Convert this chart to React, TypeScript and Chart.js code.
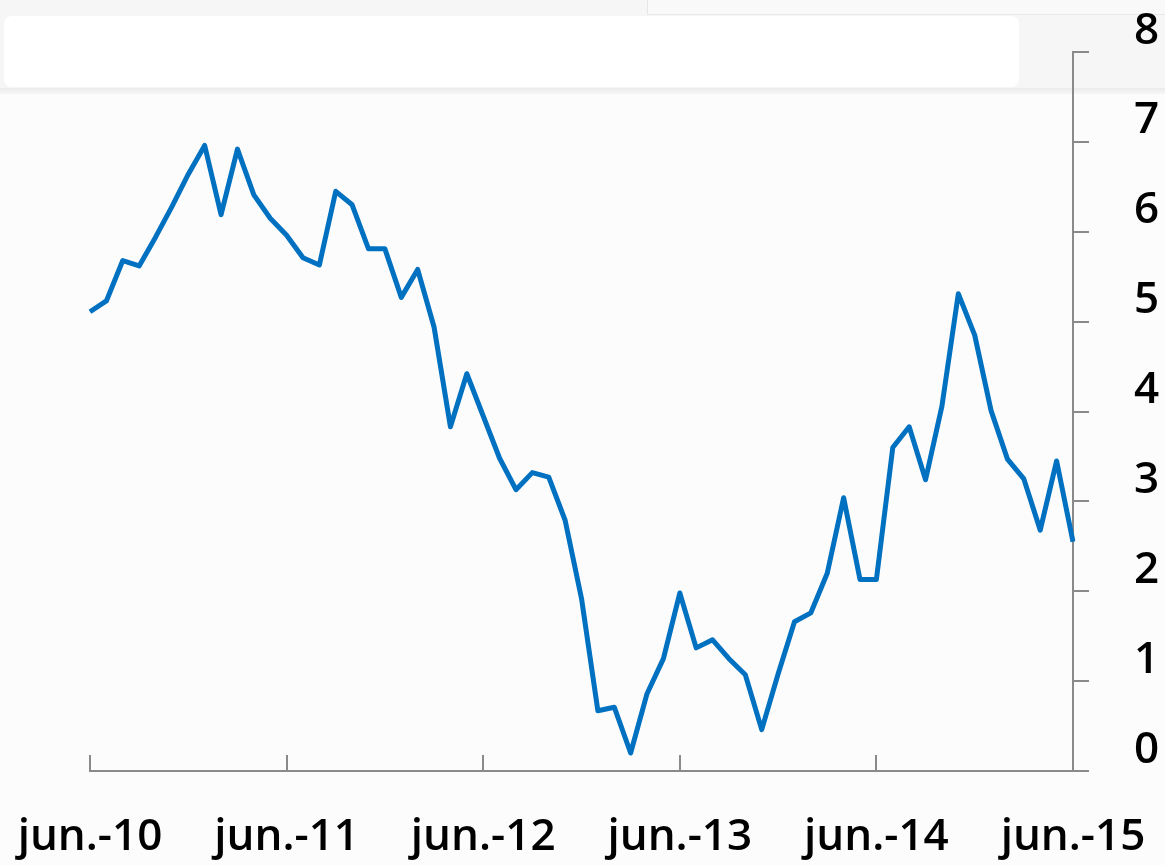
import React, { useEffect, useRef } from "react";
import { Chart, registerables } from "chart.js";

Chart.register(...registerables);

const monthNames = ["jun.", "jul.", "ago.", "sep.", "oct.", "nov.", "dic.", "ene.", "feb.", "mar.", "abr.", "may."];
const startYears = [10, 11, 12, 13, 14];
const tickLabels = ["jun.-10", "jun.-11", "jun.-12", "jun.-13", "jun.-14", "jun.-15"];
const yTicks = [0, 1, 2, 3, 4, 5, 6, 7, 8];

const seriesValues = [
  5.11, 5.23, 5.68, 5.62, 5.94, 6.28, 6.64, 6.96, 6.19, 6.92, 6.41, 6.15,
  5.96, 5.71, 5.63, 6.45, 6.30, 5.81, 5.81, 5.27, 5.58, 4.94, 3.83, 4.42,
  3.95, 3.48, 3.13, 3.32, 3.27, 2.79, 1.92, 0.67, 0.71, 0.20, 0.86, 1.25,
  1.98, 1.37, 1.46, 1.25, 1.07, 0.46, 1.08, 1.66, 1.76, 2.20, 3.04, 2.13,
  2.13, 3.60, 3.83, 3.24, 4.06, 5.31, 4.85, 4.01, 3.47, 3.25, 2.68, 3.45,
  2.55,
];

const categories: string[] = [];
startYears.forEach((y) => {
  monthNames.forEach((m, i) => {
    const yy = i < 7 ? y : y + 1;
    categories.push(`${m}-${yy}`);
  });
});
categories.push("jun.-15");

const AXIS_COLOR = "#8a8a8a";
const FONT = "'Open Sans', 'Noto Sans', sans-serif";

const innerTicks = {
  id: "innerTicks",
  afterDraw(chart: any) {
    const xs = chart.scales.x;
    const ctx = chart.ctx;
    const bottom = chart.chartArea.bottom;
    ctx.save();
    ctx.strokeStyle = AXIS_COLOR;
    ctx.lineWidth = 2;
    categories.forEach((c, i) => {
      if (tickLabels.includes(c)) {
        const px = Math.round(xs.getPixelForValue(i));
        ctx.beginPath();
        ctx.moveTo(px, bottom);
        ctx.lineTo(px, bottom - 16);
        ctx.stroke();
      }
    });
    ctx.restore();
  },
};

export default function App() {
  const ref = useRef<HTMLCanvasElement | null>(null);
  useEffect(() => {
    if (!ref.current) return;
    const chart = new Chart(ref.current, {
      type: "line",
      data: {
        labels: categories,
        datasets: [
          {
            data: seriesValues,
            borderColor: "#0070C0",
            borderWidth: 5,
            pointRadius: 0,
            tension: 0,
            borderJoinStyle: "round",
            borderCapStyle: "butt",
            fill: false,
          },
        ],
      },
      options: {
        responsive: false,
        animation: false,
        devicePixelRatio: 1,
        layout: { padding: { left: 90, top: 52, right: 0, bottom: 0 } },
        plugins: { legend: { display: false }, tooltip: { enabled: false }, title: { display: false } },
        scales: {
          x: {
            type: "category",
            offset: false,
            grid: { drawOnChartArea: false, drawTicks: false },
            border: { display: true, color: AXIS_COLOR, width: 2 },
            ticks: {
              autoSkip: false,
              maxRotation: 0,
              minRotation: 0,
              padding: 40,
              color: "#000",
              font: { family: FONT, size: 44, weight: "600" },
              callback: (_v: any, i: number) => (tickLabels.includes(categories[i]) ? categories[i] : ""),
            },
            afterFit: (s: any) => {
              s.height = 94;
              s.paddingLeft = 0;
              s.paddingRight = 0;
            },
          },
          y: {
            position: "right",
            min: 0,
            max: 8,
            grid: { drawOnChartArea: false, drawTicks: true, tickLength: 16, color: AXIS_COLOR, lineWidth: 2 },
            border: { display: true, color: AXIS_COLOR, width: 2 },
            ticks: {
              stepSize: 1,
              padding: 45,
              labelOffset: -21,
              color: "#000",
              font: { family: FONT, size: 44, weight: "600" },
              callback: (v: any) => (yTicks.includes(v) ? String(v) : ""),
            },
            afterFit: (s: any) => {
              s.width = 92;
              s.paddingTop = 0;
              s.paddingBottom = 0;
            },
          },
        },
      },
      plugins: [innerTicks],
    });
    return () => chart.destroy();
  }, []);

  return (
    <div style={{ position: "fixed", left: 0, top: 0, width: 1165, height: 865, background: "#fcfcfc", overflow: "hidden" }}>
      <div style={{ position: "absolute", left: 0, top: 0, width: 1165, height: 90, background: "#f6f6f6" }} />
      <div style={{ position: "absolute", left: 647, top: 0, width: 518, height: 14, background: "#f9f9f9", borderLeft: "1px solid #e6e6e6", borderBottom: "1px solid #e9e9e9" }} />
      <div style={{ position: "absolute", left: 4, top: 16, width: 1015, height: 71, background: "#ffffff", borderRadius: 8 }} />
      <div style={{ position: "absolute", left: 0, top: 88, width: 1165, height: 6, background: "linear-gradient(#ebebeb, #f7f7f7)" }} />
      <canvas ref={ref} width={1165} height={865} style={{ position: "absolute", left: 0, top: 0, width: 1165, height: 865 }} />
    </div>
  );
}
